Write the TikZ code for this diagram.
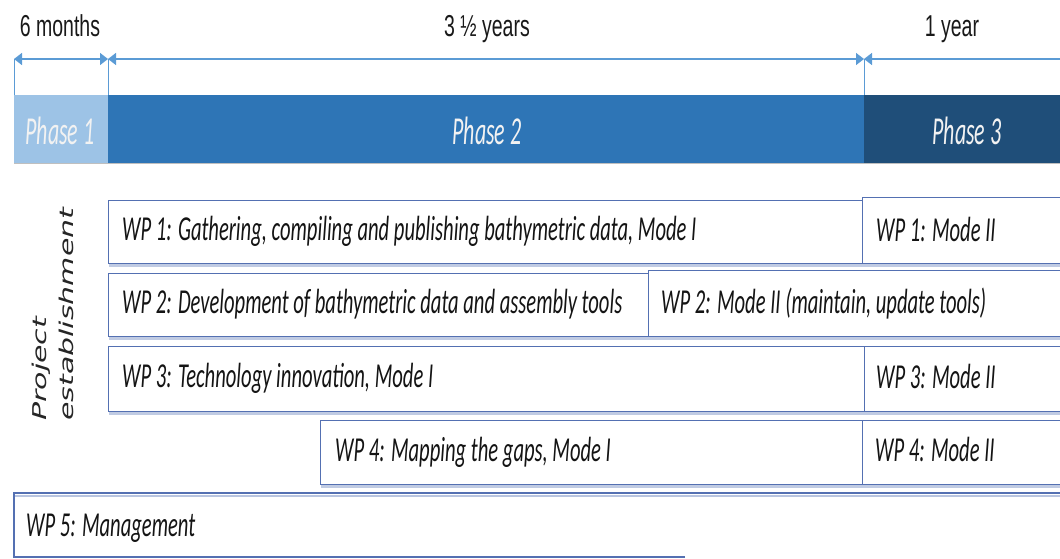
\documentclass[tikz,border=0pt]{standalone}
\usepackage{fontspec}
\setmainfont{Carlito}
\newfontfamily\arialf{Liberation Sans}
\newfontfamily\verdf{DejaVu Sans}
\usepackage{graphicx}
\usetikzlibrary{arrows.meta,shadows}
\definecolor{arrowblue}{HTML}{5B9BD5}
\definecolor{phone}{HTML}{9DC3E6}
\definecolor{phtwo}{HTML}{2E75B6}
\definecolor{phthree}{HTML}{1F4E79}
\definecolor{boxline}{HTML}{5470B2}
\definecolor{boxshadow}{HTML}{B9C5E0}
\definecolor{phtext}{HTML}{F2F2F2}
\newcommand{\wptxt}[1]{\scalebox{1}[1.7]{\fontsize{20.6}{24}\selectfont\itshape #1}}
\newcommand{\phtxt}[1]{\scalebox{1}[1.8]{\fontsize{22}{26}\selectfont\itshape #1}}
\newcommand{\toptxt}[1]{\scalebox{1}[1.55]{\arialf\fontsize{19.5}{24}\selectfont #1}}
\begin{document}
\begin{tikzpicture}[x=1pt,y=-1pt,
  wpbox/.style={draw=boxline, line width=1.3pt, fill=white, inner sep=0pt, anchor=north west,
    drop shadow={shadow xshift=0pt, shadow yshift=-3pt, fill=boxshadow, opacity=0.9}},
  wplabel/.style={anchor=base west, inner sep=0pt, text=black!92},
  phasebox/.style={inner sep=0pt, anchor=north west, minimum height=68pt, text=phtext},
  toplabel/.style={anchor=base, inner sep=0pt, text=black!90},
  dim/.style={draw=arrowblue, line width=1.3pt, arrows={Triangle[length=8pt,width=12pt]-Triangle[length=8pt,width=12pt]}},
  tick/.style={draw=arrowblue, line width=0.8pt}]
\useasboundingbox (0,0) rectangle (1060,559);
\clip (0,0) rectangle (1060,559);

% top labels
\node[toplabel] (l1) at (60,37) {\toptxt{6 months}};
\node[toplabel] (l2) at (487,37) {\toptxt{3 ½ years}};
\node[toplabel] (l3) at (952,37) {\toptxt{1 year}};

% dimension arrows
\coordinate (t0) at (14,59);
\coordinate (t1) at (108,59);
\coordinate (t2) at (864,59);
\coordinate (t3) at (1075,59);
\coordinate (b0) at (14,95);
\coordinate (b1) at (108,95);
\coordinate (b2) at (864,95);
\draw[tick] (t0) -- (b0);
\draw[tick] (t1) -- (b1);
\draw[tick] (t2) -- (b2);
\draw[dim] (t0) -- (t1);
\draw[dim] (t1) -- (t2);
\draw[dim] (t2) -- (t3);

% phase bar
\node[phasebox, fill=phone, minimum width=94pt] (ph1) at (14,95) {};
\node[phasebox, fill=phtwo, minimum width=756pt] (ph2) at (108,95) {};
\node[phasebox, fill=phthree, minimum width=206pt] (ph3) at (864,95) {};
\draw[draw=black!25, line width=0.8pt] (ph1.south west) -- (ph3.south east);
\node[anchor=base, inner sep=0pt, text=phtext] (ph1t) at (60,145) {\phtxt{Phase 1}};
\node[anchor=base, inner sep=0pt, text=phtext] (ph2t) at (487,145) {\phtxt{Phase 2}};
\node[anchor=base, inner sep=0pt, text=phtext] (ph3t) at (967,145) {\phtxt{Phase 3}};

% project establishment
\node[rotate=90, anchor=north west, inner sep=0pt, text=black!85] (proj) at (27,421)
  {\scalebox{1.58}[1]{\verdf\itshape\fontsize{19}{27}\selectfont\begin{tabular}{@{}l@{}}Project\\establishment\end{tabular}}};

% WP boxes
\node[wpbox, minimum width=754pt, minimum height=63pt] (wp1) at (108,200) {};
\node[wpbox, minimum width=210pt, minimum height=66pt] (wp1b) at (862,197) {};
\node[wpbox, minimum width=540pt, minimum height=63pt] (wp2) at (108,273) {};
\node[wpbox, minimum width=424pt, minimum height=66pt] (wp2b) at (648,270) {};
\node[wpbox, minimum width=756pt, minimum height=65pt] (wp3) at (108,346) {};
\node[wpbox, minimum width=208pt, minimum height=65pt] (wp3b) at (864,346) {};
\node[wpbox, minimum width=542pt, minimum height=64pt] (wp4) at (320,420) {};
\node[wpbox, minimum width=210pt, minimum height=64pt] (wp4b) at (862,420) {};

\node[wplabel] (wp1t) at (122,240) {\wptxt{WP 1: Gathering, compiling and publishing bathymetric data, Mode I}};
\node[wplabel] (wp1bt) at (876,241) {\wptxt{WP 1: Mode II}};
\node[wplabel] (wp2t) at (122,313) {\wptxt{WP 2: Development of bathymetric data and assembly tools}};
\node[wplabel] (wp2bt) at (661,313) {\wptxt{WP 2: Mode II (maintain, update tools)}};
\node[wplabel] (wp3t) at (122,387) {\wptxt{WP 3: Technology innovation, Mode I}};
\node[wplabel] (wp3bt) at (876,388) {\wptxt{WP 3: Mode II}};
\node[wplabel] (wp4t) at (335,461) {\wptxt{WP 4: Mapping the gaps, Mode I}};
\node[wplabel] (wp4bt) at (875,461) {\wptxt{WP 4: Mode II}};

% WP5
\coordinate (w5a) at (685,557);
\coordinate (w5b) at (14,557);
\coordinate (w5c) at (14,493);
\coordinate (w5d) at (1070,493);
\draw[draw=boxshadow, line width=1.3pt] ([yshift=-3pt]w5c) -- ([yshift=-3pt]w5d);
\draw[draw=boxline, line width=1.3pt] (w5a) -- (w5b) -- (w5c) -- (w5d);
\node[wplabel] (wp5t) at (26,536) {\wptxt{WP 5: Management}};
\end{tikzpicture}
\end{document}
